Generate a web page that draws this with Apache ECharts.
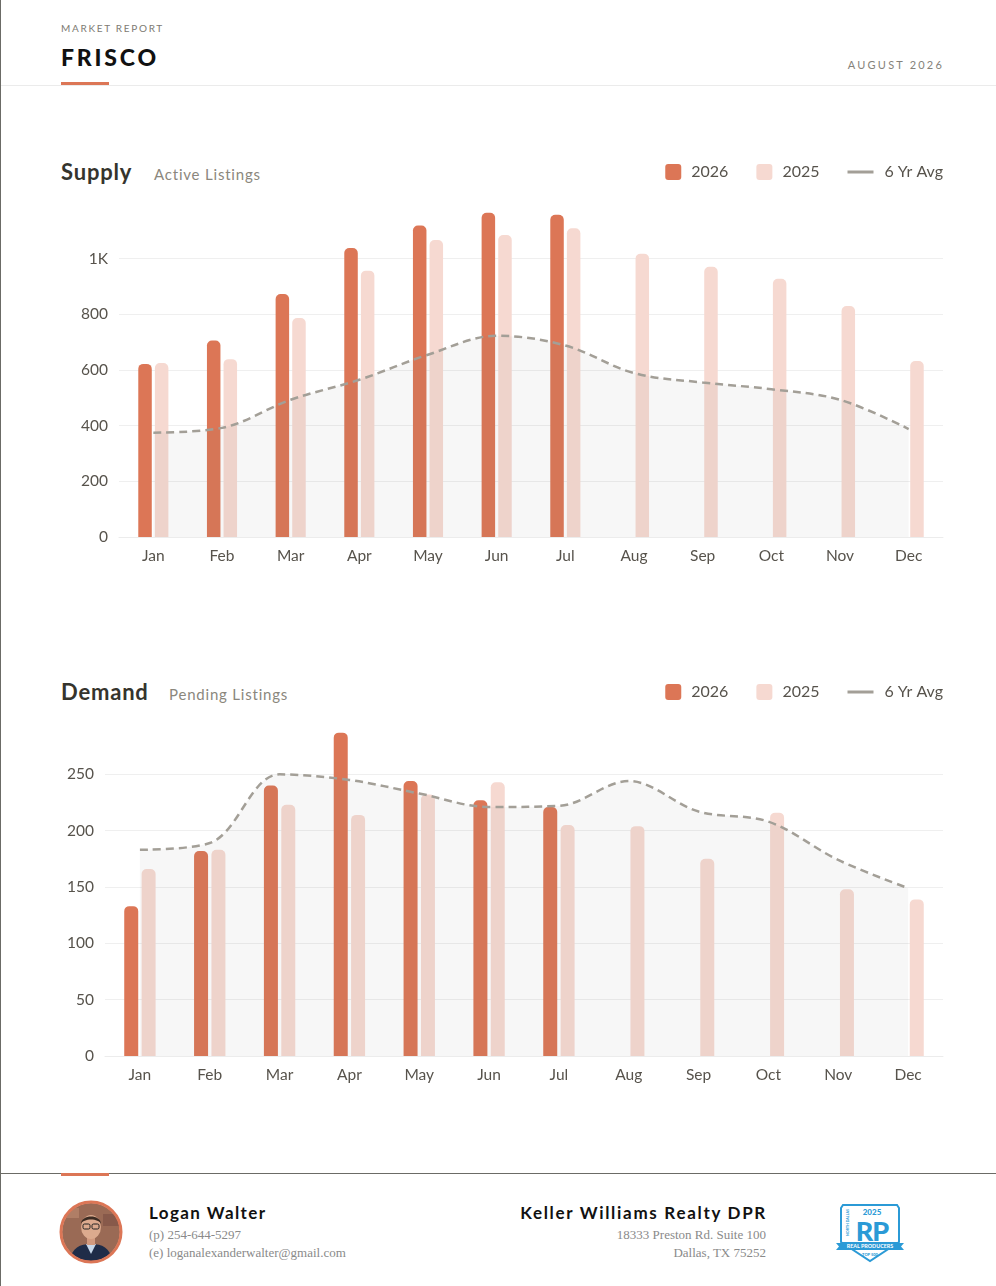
<!DOCTYPE html>
<html>
<head>
<meta charset="utf-8">
<script src="https://cdn.jsdelivr.net/npm/echarts@6/dist/echarts.min.js"></script>
<style>
  html, body { margin: 0; padding: 0; background: #fff; }
  body { width: 996px; height: 1286px; position: relative; overflow: hidden; font-family: Lato, "Open Sans", sans-serif; }
  .page { position: absolute; left: 0; top: 0; width: 995px; height: 1286px; border-left: 1px solid #6b6b66; }
  .abs { position: absolute; white-space: nowrap; }
  .kicker { left: 60px; top: 22px; font-size: 10px; letter-spacing: 1.7px; color: #7d7a72; }
  .city { left: 60px; top: 43px; font-size: 23px; font-weight: 900; letter-spacing: 2.8px; color: #111; }
  .accent { position: absolute; left: 60px; width: 48px; height: 3px; background: #DC7656; }
  .rule { position: absolute; left: 0; width: 996px; height: 1px; }
  .date { right: 52px; top: 58px; font-size: 11px; letter-spacing: 2.2px; color: #85827a; }
  .h2 { font-size: 22px; font-weight: 700; letter-spacing: 0.8px; color: #35342d; }
  .sub { font-size: 15px; letter-spacing: 0.8px; color: #8b877d; }
  .chart { position: absolute; left: 0; width: 996px; height: 440px; }
  .name { font-size: 17px; font-weight: 700; letter-spacing: 1.4px; color: #111; }
  .serif { font-family: "Liberation Serif", "DejaVu Serif", serif; font-size: 13px; color: #8a8a8a; }
</style>
</head>
<body>
<div class="page">
  <div class="abs kicker">MARKET REPORT</div>
  <div class="abs city">FRISCO</div>
  <div class="accent" style="top:82px"></div>
  <div class="rule" style="top:85px;background:#ebebeb"></div>
  <div class="abs date">AUGUST 2026</div>

  <div class="abs h2" style="left:60px;top:158px">Supply</div>
  <div class="abs sub" style="left:153px;top:165px">Active Listings</div>
  <div id="supply" class="chart" style="top:140px"></div>

  <div class="abs h2" style="left:60px;top:678px">Demand</div>
  <div class="abs sub" style="left:168px;top:685px">Pending Listings</div>
  <div id="demand" class="chart" style="top:660px"></div>

  <div class="rule" style="top:1173px;background:#6b6b66"></div>
  <div class="accent" style="top:1173px"></div>

  <svg class="abs" style="left:58px;top:1200px" width="64" height="64" viewBox="0 0 64 64">
    <defs><clipPath id="av"><circle cx="32" cy="32" r="29"/></clipPath></defs>
    <g clip-path="url(#av)">
      <rect x="0" y="0" width="64" height="64" fill="#9a6a55"/>
      <rect x="0" y="8" width="20" height="10" fill="#b07e66"/>
      <rect x="44" y="14" width="20" height="12" fill="#87594a"/>
      <path d="M10 64 C12 48 20 44 32 44 C44 44 52 48 54 64 Z" fill="#1f2c48"/>
      <path d="M27 44 L32 54 L37 44 Z" fill="#c8d8ea"/>
      <rect x="28" y="36" width="8" height="9" fill="#d29a7f"/>
      <ellipse cx="32" cy="27" rx="10" ry="12" fill="#dcaa8e"/>
      <path d="M22 24 C22 14 42 14 42 24 C40 18 24 18 22 24 Z" fill="#3b2b22"/>
      <rect x="24" y="24" width="7" height="5" rx="1.5" fill="none" stroke="#222" stroke-width="1"/>
      <rect x="33" y="24" width="7" height="5" rx="1.5" fill="none" stroke="#222" stroke-width="1"/>
    </g>
    <circle cx="32" cy="32" r="30" fill="none" stroke="#DC7656" stroke-width="3"/>
  </svg>
  <div class="abs name" style="left:148px;top:1202px">Logan Walter</div>
  <div class="abs serif" style="left:148px;top:1227px">(p) 254-644-5297</div>
  <div class="abs serif" style="left:148px;top:1245px">(e) loganalexanderwalter@gmail.com</div>

  <div class="abs name" style="right:229px;top:1202px;letter-spacing:1.7px">Keller Williams Realty DPR</div>
  <div class="abs serif" style="right:230px;top:1227px">18333 Preston Rd. Suite 100</div>
  <div class="abs serif" style="right:230px;top:1245px">Dallas, TX 75252</div>

  <svg class="abs" style="left:834px;top:1202px" width="70" height="62" viewBox="0 0 70 62">
    <path d="M8 3 L62 3 L64 6 L64 40 L35 59 L6 40 L6 6 Z" fill="#fff" stroke="#2b9ad6" stroke-width="2"/>
    <text x="37" y="13" text-anchor="middle" font-family="Lato, sans-serif" font-size="8" font-weight="900" fill="#2b9ad6">2025</text>
    <text x="37" y="39" text-anchor="middle" font-family="Lato, sans-serif" font-size="27" font-weight="900" fill="#2b9ad6" letter-spacing="-1">RP</text>
    <text transform="translate(14 34) rotate(-90)" font-family="Lato, sans-serif" font-size="3.6" font-weight="700" fill="#2b9ad6">NORTH DALLAS</text>
    <path d="M1 41 L6 41 L6 48 L1 48 L4 44.5 Z M69 41 L64 41 L64 48 L69 48 L66 44.5 Z" fill="#2b9ad6"/>
    <rect x="6" y="40" width="58" height="8" fill="#2b9ad6"/>
    <text x="35" y="46.3" text-anchor="middle" font-family="Lato, sans-serif" font-size="5.4" font-weight="700" fill="#fff">REAL PRODUCERS</text>
    <text x="35" y="54" text-anchor="middle" font-family="Lato, sans-serif" font-size="4" font-weight="900" fill="#2b9ad6">TOP 500</text>
  </svg>
</div>

<script>
// values
const months = ['Jan', 'Feb', 'Mar', 'Apr', 'May', 'Jun', 'Jul', 'Aug', 'Sep', 'Oct', 'Nov', 'Dec'];

const supply2026 = [622, 706, 873, 1038, 1119, 1165, 1158, null, null, null, null, null];
const supply2025 = [625, 639, 787, 957, 1067, 1085, 1109, 1018, 971, 928, 830, 632];
const supplyAvg  = [375, 392, 493, 565, 655, 723, 688, 589, 555, 531, 493, 388];

const demand2026 = [133, 182, 240, 287, 244, 227, 221, null, null, null, null, null];
const demand2025 = [166, 183, 223, 214, 232, 243, 205, 204, 175, 216, 148, 139];
const demandAvg  = [183, 189, 250, 245, 233, 221, 222, 244, 217, 208, 174, 149];

const C_2026 = '#DC7656';
const C_2025 = '#F6D9D1';
const C_AVG = '#A39F97';
const TXT = '#57534c';
const SQUARE = 'path://M3,0 H13 Q16,0 16,3 V13 Q16,16 13,16 H3 Q0,16 0,13 V3 Q0,0 3,0 Z';
const DASH = 'path://M0,0 H26 V3 H0 Z';

function buildOption(cur, prev, avg, cfg) {
  const bar = (name, data, color) => ({
    name, type: 'bar', data,
    barWidth: cfg.barWidth, barGap: cfg.barGap,
    symbolKeepAspect: true,
    itemStyle: { color, borderRadius: [5, 5, 0, 0] },
    emphasis: { disabled: true },
  });
  return {
    animation: false,
    textStyle: { fontFamily: 'Lato, "Open Sans", sans-serif' },
    legend: {
      right: 54, top: 24, padding: 0,
      itemWidth: 26, itemHeight: 16, itemGap: 28,
      textStyle: { fontSize: 16, color: TXT },
      data: [
        { name: '2026', icon: SQUARE },
        { name: '2025', icon: SQUARE, textStyle: { padding: [0, 7, 0, 0] } },
        { name: '6 Yr Avg', icon: DASH, textStyle: { padding: [0, 0, 0, 6] } },
      ],
    },
    grid: { left: cfg.left, right: 54, top: cfg.top, bottom: cfg.bottom, containLabel: false },
    xAxis: {
      type: 'category', data: months,
      axisTick: { show: false },
      axisLine: { lineStyle: { color: '#ececec' } },
      axisLabel: { color: TXT, fontSize: 15.5, margin: 11 },
    },
    yAxis: {
      type: 'value', min: 0, max: cfg.max, interval: cfg.interval,
      axisLabel: {
        color: TXT, fontSize: 15.5, margin: 11, showMaxLabel: false,
        formatter: v => (v >= 1000 ? v / 1000 + 'K' : String(v)),
      },
      splitLine: { showMaxLine: false, lineStyle: { color: '#efefef' } },
    },
    series: [
      bar('2026', cur, C_2026),
      bar('2025', prev, C_2025),
      {
        name: '6 Yr Avg', type: 'line', data: avg,
        smooth: 0.35,
        symbol: 'none', symbolKeepAspect: true,
        itemStyle: { color: C_AVG },
        lineStyle: { color: C_AVG, width: 2.5, type: [8, 5] },
        areaStyle: { color: 'rgba(125,125,115,0.085)', origin: 'start' },
        emphasis: { disabled: true },
        z: 3,
      },
    ],
  };
}

const supplyChart = echarts.init(document.getElementById('supply'));
supplyChart.setOption(buildOption(supply2026, supply2025, supplyAvg, {
  left: 118, top: 63, bottom: 43, max: 1200, interval: 200,
  barWidth: 13.5, barGap: '23%',
}));

const demandChart = echarts.init(document.getElementById('demand'));
demandChart.setOption(buildOption(demand2026, demand2025, demandAvg, {
  left: 104, top: 58, bottom: 44, max: 300, interval: 50,
  barWidth: 14, barGap: '24%',
}));
</script>
</body>
</html>
